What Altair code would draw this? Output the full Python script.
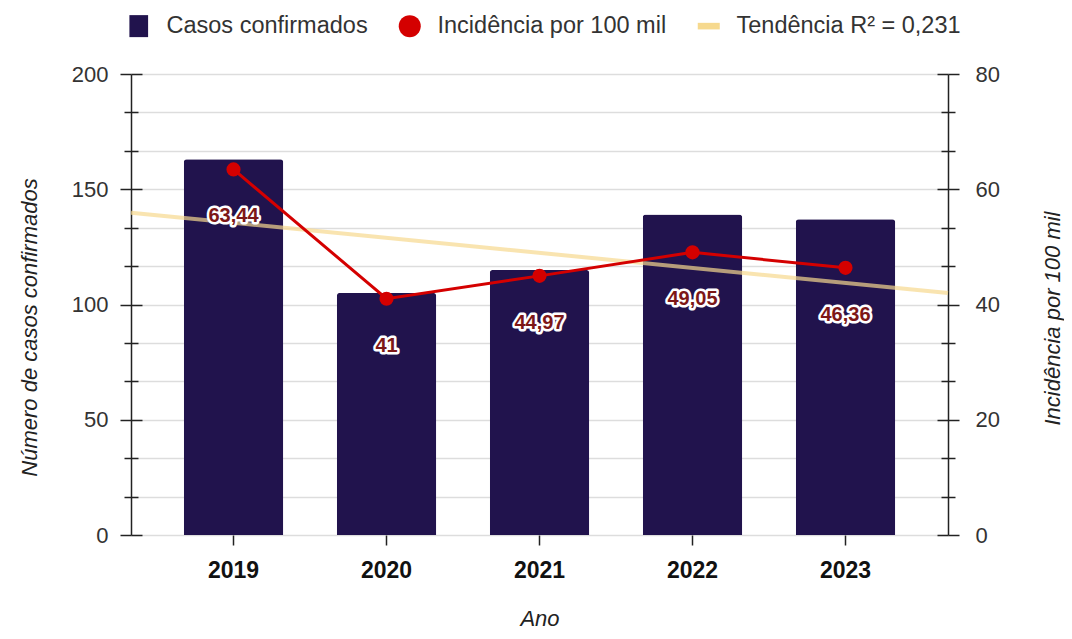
import altair as alt
import pandas as pd

# ---- data ----
ANOS = [2019, 2020, 2021, 2022, 2023]
CASOS = [163, 105, 115, 139, 137]
INCID = [63.44, 41.0, 44.97, 49.05, 46.36]
ROTULOS = ["63,44", "41", "44,97", "49,05", "46,36"]
SERIES = ["Casos confirmados", "Incidência por 100 mil", "Tendência R² = 0,231"]
CORES = ["#21134d", "#d40000", "#f6d98e"]
SIMBOLOS = ["M-0.85,-1H0.85V1H-0.85Z", "circle", "M-1,-0.3H1V0.3H-1Z"]
LEFT_TICKS = [0, 16.667, 33.333, 50, 66.667, 83.333, 100, 116.667, 133.333, 150, 166.667, 183.333, 200]
RIGHT_TICKS = [0, 6.667, 13.333, 20, 26.667, 33.333, 40, 46.667, 53.333, 60, 66.667, 73.333, 80]

FONT = "Liberation Sans"
W, H = 817, 461

df = pd.DataFrame({
    "ano": [str(a) for a in ANOS],
    "ano_num": ANOS,
    "casos": CASOS,
    "inc": INCID,
    "rot": ROTULOS,
})

xband = alt.Scale(type="band", paddingInner=0.35, paddingOuter=0.345)
xhid = alt.X("ano:O", scale=xband, axis=None)
yright_scale = alt.Scale(domain=[0, 80], nice=False, zero=True)

def major(step):
    return f"abs(datum.value - round(datum.value/{step})*{step}) < 0.01"

tick_left = {"condition": {"test": major(50), "value": 11}, "value": 7}
tick_right = {"condition": {"test": major(20), "value": 11}, "value": 7}

bars = alt.Chart(df).mark_bar(
    color=CORES[0], cornerRadiusTopLeft=3, cornerRadiusTopRight=3
).encode(
    x=alt.X("ano:O", scale=xband, title="Ano",
            axis=alt.Axis(labelFontWeight="bold", labelFontSize=23, labelColor="#111",
                          labelAngle=0, labelPadding=14, tickColor="#222", tickSize=10,
                          tickWidth=1.5, domain=False, titleFontStyle="italic",
                          titleFontWeight="normal", titleFontSize=22, titleColor="#222",
                          titlePadding=26)),
    y=alt.Y("casos:Q", scale=alt.Scale(domain=[0, 200], nice=False),
            title="Número de casos confirmados",
            axis=alt.Axis(orient="left", values=LEFT_TICKS,
                          labelExpr=f"{major(50)} ? '' + round(datum.value) : ''",
                          labelFontSize=22, labelColor="#333", labelPadding=12,
                          labelOverlap=False, tickSize=tick_left, tickColor="#222",
                          tickWidth=1.5, domainColor="#222", domainWidth=1.5,
                          grid=True, gridColor="#dddddd", gridWidth=1.5,
                          titleFontStyle="italic", titleFontWeight="normal",
                          titleFontSize=22, titleColor="#222",
                          titleAngle=270, titleAlign="center", titleBaseline="middle",
                          titleX=-102, titleY=253)),
)

trend = alt.Chart(df).transform_regression(
    "ano_num", "inc", extent=[2019 - 0.67, 2023 + 0.67]
).mark_line(color=CORES[2], strokeWidth=4, opacity=0.7).encode(
    x=alt.X("ano_num:Q", scale=alt.Scale(domain=[2019 - 0.67, 2023 + 0.67], nice=False, zero=False), axis=None),
    y=alt.Y("inc:Q", scale=yright_scale,
            axis=alt.Axis(orient="left", offset=-W, values=RIGHT_TICKS, labels=False,
                          domain=False, grid=False, tickSize=tick_right, tickColor="#222",
                          tickWidth=1.5, title=None, zindex=1)),
)

line = alt.Chart(df).mark_line(color=CORES[1], strokeWidth=3).encode(
    x=xhid,
    y=alt.Y("inc:Q", scale=yright_scale, title="Incidência por 100 mil",
            axis=alt.Axis(orient="right", values=RIGHT_TICKS,
                          labelExpr=f"{major(20)} ? '' + round(datum.value) : ''",
                          labelFontSize=22, labelColor="#333", labelPadding=16,
                          labelOverlap=False, tickSize=tick_right, tickColor="#222",
                          tickWidth=1.5, domainColor="#222", domainWidth=1.5, grid=False,
                          titleAngle=270, titleAlign="center", titleBaseline="middle",
                          titleX=104, titleY=244,
                          titleFontStyle="italic", titleFontWeight="normal",
                          titleFontSize=22, titleColor="#222")),
)

points = alt.Chart(df).mark_point(filled=True, color=CORES[1], size=200, opacity=1).encode(
    x=xhid,
    y=alt.Y("inc:Q", scale=yright_scale,
            axis=alt.Axis(orient="right", offset=-W, values=RIGHT_TICKS, labels=False,
                          domain=False, grid=False, tickSize=tick_right, tickColor="#222",
                          tickWidth=1.5, title=None, zindex=1)),
)

halo = alt.Chart(df).mark_text(
    dy=47, font=FONT, fontSize=20, fontWeight="bold", color="white",
    stroke="white", strokeWidth=5, strokeJoin="round"
).encode(x=xhid, y=alt.Y("inc:Q", scale=yright_scale, axis=None), text="rot:N")

labels = alt.Chart(df).mark_text(
    dy=47, font=FONT, fontSize=20, fontWeight="bold", color="#7d1717"
).encode(x=xhid, y=alt.Y("inc:Q", scale=yright_scale, axis=None), text="rot:N")

legend = alt.Legend(
    title=None, orient="none", legendX=-4, legendY=-60, direction="horizontal",
    symbolSize=484, symbolStrokeWidth=0, symbolOpacity=1, labelFont=FONT,
    labelFontSize=23.5, labelColor="#333", labelOffset=16, columnPadding=30,
    labelLimit=400,
)

leg = alt.Chart(pd.DataFrame({"serie": SERIES})).transform_filter("false").mark_point(
    filled=True
).encode(
    color=alt.Color("serie:N", scale=alt.Scale(domain=SERIES, range=CORES), legend=legend),
    shape=alt.Shape("serie:N", scale=alt.Scale(domain=SERIES, range=SIMBOLOS), legend=legend),
)

chart = alt.layer(bars, trend, line, points, halo, labels, leg).resolve_scale(
    x="independent", y="independent"
).properties(
    width=W, height=H,
    padding={"left": 123, "top": 66, "right": 116, "bottom": 96},
    autosize=alt.AutoSizeParams(type="none"),
).configure_view(stroke=None).configure_axis(
    labelFont=FONT, titleFont=FONT
).configure_legend(labelFont=FONT)

chart.save("out.html", embed_options={"renderer": "svg", "actions": False})
